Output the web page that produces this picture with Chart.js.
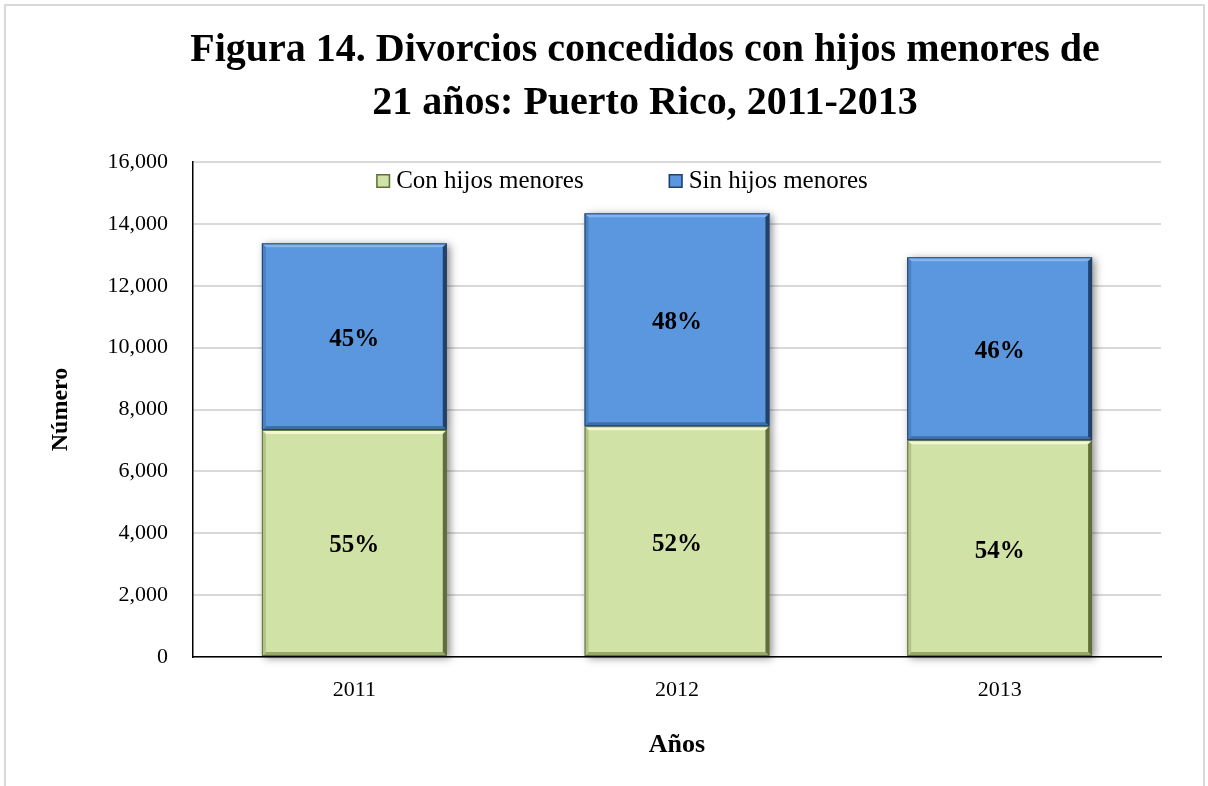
<!DOCTYPE html>
<html>
<head>
<meta charset="utf-8">
<script src="https://cdn.jsdelivr.net/npm/chart.js@4.4.1/dist/chart.umd.min.js"></script>
<style>
  body { margin: 0; background: #fff; }
  .frame { position: absolute; left: 4px; top: 4px; width: 1197px; height: 800px; border: 2px solid #d9d9d9; }
  .wrap { position: absolute; left: 0; top: 0; width: 1208px; height: 786px; }
</style>
</head>
<body>
<div class="frame"></div>
<div class="wrap"><canvas id="divorceChart" width="1208" height="786"></canvas></div>
<script>
const years = ["2011", "2012", "2013"];
const conHijos = [7340, 7460, 7010];
const sinHijos = [6030, 6880, 5910];
const yTicks = [0, 2000, 4000, 6000, 8000, 10000, 12000, 14000, 16000];
const titleLines = [
  "Figura 14. Divorcios concedidos con hijos menores de",
  "21 años: Puerto Rico, 2011-2013",
];

// bevel colours: [top, bottom, right, left]
const greenBevel = ["#f3f8cf", "#97a868", "#5f6e3c", "#b2c487"];
const blueBevel = ["#82b4ef", "#3f6fa7", "#22426a", "#4b82c3"];

Chart.defaults.font.family = "'Liberation Serif', serif";
Chart.defaults.color = "#000";

function barBox(bar) {
  const p = bar.getProps(["x", "y", "base", "width"], true);
  return {
    l: p.x - p.width / 2,
    r: p.x + p.width / 2,
    t: Math.min(p.y, p.base),
    b: Math.max(p.y, p.base),
  };
}

function poly(c, pts, color) {
  c.beginPath();
  c.moveTo(pts[0], pts[1]);
  for (let i = 2; i < pts.length; i += 2) c.lineTo(pts[i], pts[i + 1]);
  c.closePath();
  c.fillStyle = color;
  c.fill();
}

// title drawn by hand so it can sit a little left of the plot centre
const titlePlugin = {
  id: "titleLines",
  afterDraw(chart) {
    const c = chart.ctx;
    c.save();
    c.font = "bold 40px 'Liberation Serif'";
    c.fillStyle = "#000";
    c.textAlign = "center";
    c.textBaseline = "middle";
    titleLines.forEach((line, i) => c.fillText(line, 645, 51 + i * 53));
    c.restore();
  },
};

const shadowPlugin = {
  id: "barShadow",
  beforeDatasetsDraw(chart) {
    const c = chart.ctx;
    c.save();
    c.shadowColor = "rgba(0, 0, 0, 0.45)";
    c.shadowBlur = 8;
    c.shadowOffsetX = 3;
    c.shadowOffsetY = 2;
    c.fillStyle = "#fff";
    chart.data.datasets.forEach((ds, di) => {
      chart.getDatasetMeta(di).data.forEach((bar) => {
        const r = barBox(bar);
        c.fillRect(r.l, r.t, r.r - r.l, r.b - r.t);
      });
    });
    c.restore();
  },
};

const bevelPlugin = {
  id: "barBevel",
  afterDatasetsDraw(chart) {
    const c = chart.ctx;
    const k = 4;
    c.save();
    chart.data.datasets.forEach((ds, di) => {
      const col = di === 0 ? greenBevel : blueBevel;
      chart.getDatasetMeta(di).data.forEach((bar) => {
        const { l, r, t, b } = barBox(bar);
        poly(c, [l, t, r, t, r - k, t + k, l + k, t + k], col[0]);
        poly(c, [l, b, r, b, r - k, b - k, l + k, b - k], col[1]);
        poly(c, [r, t, r, b, r - k, b - k, r - k, t + k], col[2]);
        poly(c, [l, t, l, b, l + k, b - k, l + k, t + k], col[3]);
        c.strokeStyle = col[2];
        c.lineWidth = 1;
        c.strokeRect(l + 0.5, t + 0.5, r - l - 1, b - t - 1);
      });
    });
    c.restore();
  },
};

const pctPlugin = {
  id: "pctLabels",
  afterDatasetsDraw(chart) {
    const c = chart.ctx;
    c.save();
    c.font = "bold 25px 'Liberation Serif'";
    c.fillStyle = "#000";
    c.textAlign = "center";
    c.textBaseline = "middle";
    chart.data.datasets.forEach((ds, di) => {
      chart.getDatasetMeta(di).data.forEach((bar, i) => {
        const total = conHijos[i] + sinHijos[i];
        const pct = Math.round((ds.data[i] / total) * 100) + "%";
        const p = bar.getCenterPoint();
        c.fillText(pct, p.x, p.y + 3);
      });
    });
    c.restore();
  },
};

// legend inside the top of the plot, a bit left of centre like the original
const legendPlugin = {
  id: "innerLegend",
  afterDraw(chart) {
    const c = chart.ctx;
    const area = chart.chartArea;
    const box = 14, boxGap = 6, gap = 85;
    c.save();
    c.font = "25px 'Liberation Serif'";
    c.textBaseline = "middle";
    const items = chart.data.datasets.map((ds, di) => ({
      label: ds.label,
      fill: ds.backgroundColor,
      edge: di === 0 ? greenBevel[2] : blueBevel[2],
      w: box + boxGap + c.measureText(ds.label).width,
    }));
    const total = items.reduce((s, it) => s + it.w, 0) + gap * (items.length - 1);
    let x = (area.left + area.right) / 2 - 55 - total / 2;
    const y = area.top + 19;
    items.forEach((it) => {
      c.fillStyle = it.fill;
      c.fillRect(x, y - box / 2, box, box);
      c.strokeStyle = it.edge;
      c.lineWidth = 1.5;
      c.strokeRect(x + 0.75, y - box / 2 + 0.75, box - 1.5, box - 1.5);
      c.fillStyle = "#000";
      c.fillText(it.label, x + box + boxGap, y);
      x += it.w + gap;
    });
    c.restore();
  },
};

const ctx = document.getElementById("divorceChart").getContext("2d");

new Chart(ctx, {
  type: "bar",
  data: {
    labels: years,
    datasets: [
      {
        label: "Con hijos menores",
        data: conHijos,
        backgroundColor: "#d1e2a6",
        borderWidth: 0,
      },
      {
        label: "Sin hijos menores",
        data: sinHijos,
        backgroundColor: "#5b97de",
        borderWidth: 0,
      },
    ],
  },
  options: {
    responsive: false,
    animation: false,
    categoryPercentage: 1,
    barPercentage: 0.573,
    layout: {
      padding: { top: 162, left: 40, right: 47, bottom: 20 },
    },
    plugins: {
      legend: { display: false },
      tooltip: { enabled: false },
    },
    scales: {
      x: {
        stacked: true,
        grid: { display: false, drawTicks: false },
        border: { color: "#000", width: 1.5 },
        ticks: { font: { size: 22 }, padding: 20, color: "#000" },
        title: {
          display: true,
          text: "Años",
          font: { size: 26, weight: "bold" },
          padding: { top: 0, bottom: 5 },
        },
        afterFit(scale) {
          scale.height = 109;
        },
      },
      y: {
        stacked: true,
        min: 0,
        max: 16000,
        afterBuildTicks(scale) {
          scale.ticks = yTicks.map((v) => ({ value: v }));
        },
        grid: { color: "#d9d9d9", lineWidth: 2, drawTicks: false },
        border: { color: "#000", width: 1.5 },
        ticks: {
          font: { size: 22 },
          padding: 25,
          color: "#000",
          callback: (v) => v.toLocaleString("en-US"),
        },
        title: {
          display: true,
          text: "Número",
          font: { size: 24, weight: "bold" },
          padding: { top: 6, bottom: 0 },
        },
        afterFit(scale) {
          scale.width = 153;
        },
      },
    },
  },
  plugins: [shadowPlugin, bevelPlugin, pctPlugin, titlePlugin, legendPlugin],
});
</script>
</body>
</html>
